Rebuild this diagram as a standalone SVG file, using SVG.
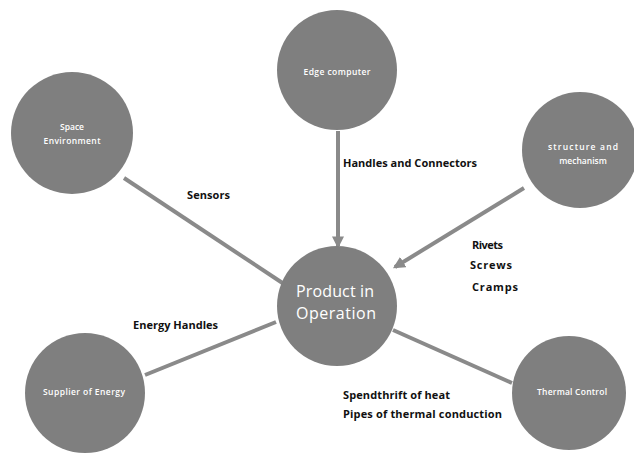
<svg xmlns="http://www.w3.org/2000/svg" width="634" height="453" viewBox="0 0 634 453">
<style>
.node{fill:#7f7f7f}
.nt{fill:#ffffff;font-family:"Open Sans","Liberation Sans",sans-serif;font-size:8.5px;font-weight:600;text-anchor:middle}
.big{font-size:16px;font-weight:400}
.lbl{fill:#111111;font-family:"Open Sans","Liberation Sans",sans-serif;font-size:11px;font-weight:700}
.conn{stroke:#8a8a8a;stroke-width:4;fill:none}
</style>
<defs>
<marker id="arr" viewBox="0 0 10 10" refX="8" refY="5" markerWidth="3" markerHeight="3" orient="auto" markerUnits="strokeWidth">
<path d="M0,0 L10,5 L0,10 z" fill="#8a8a8a"/>
</marker>
</defs>
<rect width="634" height="453" fill="#ffffff"/>
<g id="connectors">
<line class="conn" x1="338" y1="131" x2="338" y2="246" marker-end="url(#arr)"/>
<line class="conn" x1="124" y1="178" x2="284" y2="284"/>
<line class="conn" x1="524" y1="188" x2="395" y2="267" marker-end="url(#arr)"/>
<line class="conn" x1="145" y1="375" x2="276" y2="322"/>
<line class="conn" x1="393" y1="330" x2="512" y2="383"/>
</g>
<g id="product">
<circle class="node" cx="337" cy="306" r="60"/>
<text class="nt big" x="335" y="297" textLength="78">Product in</text>
<text class="nt big" x="336" y="319" textLength="80">Operation</text>
</g>
<g id="edge">
<circle class="node" cx="337" cy="70" r="60"/>
<text class="nt" x="337" y="75" textLength="67">Edge computer</text>
</g>
<g id="space">
<circle class="node" cx="72" cy="133" r="61"/>
<text class="nt" x="72" y="130">Space</text>
<text class="nt" x="72" y="144" textLength="57">Environment</text>
</g>
<g id="structure">
<circle class="node" cx="580" cy="150" r="58"/>
<text class="nt" x="583" y="150" textLength="70">structure and</text>
<text class="nt" x="583" y="164">mechanism</text>
</g>
<g id="supplier">
<circle class="node" cx="85" cy="393" r="60"/>
<text class="nt" x="84" y="395" textLength="82">Supplier of  Energy</text>
</g>
<g id="thermal">
<circle class="node" cx="569" cy="393" r="57"/>
<text class="nt" x="572" y="395" textLength="70">Thermal Control</text>
</g>
<g id="labels">
<text class="lbl" x="343" y="167" textLength="134">Handles and Connectors</text>
<text class="lbl" x="187" y="199" textLength="43">Sensors</text>
<text class="lbl" x="472" y="249" textLength="31">Rivets</text>
<text class="lbl" x="470" y="269" textLength="42">Screws</text>
<text class="lbl" x="472" y="291" textLength="46">Cramps</text>
<text class="lbl" x="133" y="329" textLength="85">Energy Handles</text>
<text class="lbl" x="343" y="399" textLength="107">Spendthrift of heat</text>
<text class="lbl" x="343" y="418" textLength="159">Pipes of thermal conduction</text>
</g>
</svg>
